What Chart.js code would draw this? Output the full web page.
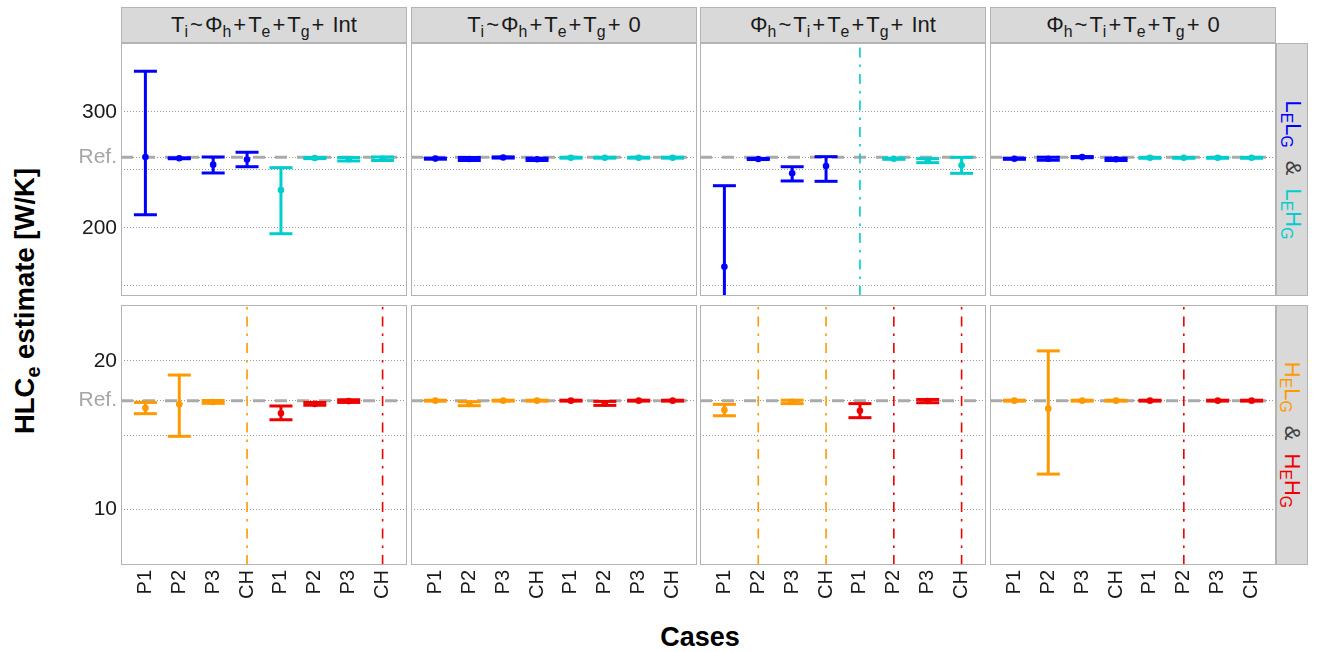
<!DOCTYPE html>
<html>
<head>
<meta charset="utf-8">
<script src="https://cdn.jsdelivr.net/npm/chart.js@4.4.1/dist/chart.umd.min.js"></script>
<style>
  html, body { margin:0; padding:0; background:#ffffff; }
  #wrap { position:relative; width:1319px; height:652px; overflow:hidden; background:#fff;
          font-family:"Liberation Sans", Arial, sans-serif; }
  #wrap canvas { position:absolute; }
  .strip { position:absolute; background:#d9d9d9; border:1px solid #b3b3b3; box-sizing:border-box;
           color:#1a1a1a; font-size:22px; display:flex; align-items:center; justify-content:center;
           white-space:nowrap; line-height:1; }
  .strip > span { white-space:pre; }
  .sb { font-size:0.72em; position:relative; top:0.32em; }
  .op { margin:0 2px; }
  .rstrip { position:absolute; background:#d9d9d9; border:1px solid #b3b3b3; box-sizing:border-box; overflow:hidden; }
  .rtext { position:absolute; display:flex; align-items:center; justify-content:center; white-space:nowrap;
           font-size:22px; line-height:1; transform:rotate(90deg); }
  .amp { color:#404040; margin:0 13px; }
  .ytitle { position:absolute; left:25px; top:301px; transform:translate(-50%,-50%) rotate(-90deg);
            font-weight:bold; font-size:27.5px; white-space:nowrap; color:#000; line-height:1; }
  .xtitle { position:absolute; left:700px; top:624px; transform:translateX(-50%);
            font-weight:bold; font-size:27px; white-space:nowrap; color:#000; line-height:1; }
</style>
</head>
<body>
<div id="wrap">
  <div class="ytitle">HLC<span class="sb">e</span> estimate [W/K]</div>
  <div class="xtitle">Cases</div>
</div>
<script>
// ---------------- data ----------------
const categories = ["P1", "P2", "P3", "CH", "P1", "P2", "P3", "CH"];

const facetTitles = [
  'T<span class="sb">i</span><span class="op">~</span>Φ<span class="sb">h</span><span class="op">+</span>T<span class="sb">e</span><span class="op">+</span>T<span class="sb">g</span><span class="op">+</span> Int',
  'T<span class="sb">i</span><span class="op">~</span>Φ<span class="sb">h</span><span class="op">+</span>T<span class="sb">e</span><span class="op">+</span>T<span class="sb">g</span><span class="op">+</span> 0',
  'Φ<span class="sb">h</span><span class="op">~</span>T<span class="sb">i</span><span class="op">+</span>T<span class="sb">e</span><span class="op">+</span>T<span class="sb">g</span><span class="op">+</span> Int',
  'Φ<span class="sb">h</span><span class="op">~</span>T<span class="sb">i</span><span class="op">+</span>T<span class="sb">e</span><span class="op">+</span>T<span class="sb">g</span><span class="op">+</span> 0'
];

const topRowLabelParts = [["L", "E", "L", "G"], ["L", "E", "H", "G"]];
const bottomRowLabelParts = [["H", "E", "L", "G"], ["H", "E", "H", "G"]];

const topColors = ["#0000FF", "#00CDCD"];
const bottomColors = ["#FF9900", "#EE0000"];

const refTop = 260.9;
const refBottom = 17.32;
const topRange = [141, 359.6];
const bottomRange = [6.22, 23.78];
const xRange = [-0.72, 7.72];

const topTickValues = [150, 200, 250, 300, refTop];
const topTickLabels = ["", "200", "", "300", "Ref."];
const bottomTickValues = [10, 15, 20, refBottom];
const bottomTickLabels = ["10", "", "20", "Ref."];

// Top row (L_E L_G & L_E H_G)
const top1_est = [261.1, 260.0, 254.5, 259.0, 232.6, 260.2, 259.2, 259.6];
const top1_lo  = [211.2, 259.6, 247.3, 252.7, 194.8, 259.7, 257.7, 258.1];
const top1_hi  = [335.2, 260.4, 261.1, 265.2, 251.9, 260.7, 260.7, 261.1];

const top2_est = [259.7, 259.4, 260.7, 259.1, 260.5, 260.5, 260.5, 260.5];
const top2_lo  = [259.2, 258.1, 260.2, 258.1, 260.1, 260.1, 260.1, 260.1];
const top2_hi  = [260.2, 260.7, 261.2, 260.1, 260.9, 260.9, 260.9, 260.9];

const top3_est = [166.3, 259.4, 247.0, 253.3, null, 259.6, 258.0, 254.0];
const top3_lo  = [95.0, 258.9, 240.4, 240.1, null, 259.1, 256.2, 247.0];
const top3_hi  = [236.3, 259.9, 252.7, 261.4, null, 260.1, 259.7, 260.8];

const top4_est = [259.6, 259.6, 261.0, 259.1, 260.4, 260.4, 260.4, 260.4];
const top4_lo  = [259.1, 258.3, 260.5, 258.1, 260.0, 260.0, 260.0, 260.0];
const top4_hi  = [260.1, 260.9, 261.5, 260.1, 260.8, 260.8, 260.8, 260.8];

// Bottom row (H_E L_G & H_E H_G)
const bot1_est = [16.82, 17.07, 17.23, null, 16.47, 17.10, 17.29, null];
const bot1_lo  = [16.44, 14.91, 17.14, null, 16.03, 17.01, 17.20, null];
const bot1_hi  = [17.20, 19.05, 17.33, null, 16.96, 17.20, 17.38, null];

const bot2_est = [17.32, 17.10, 17.32, 17.32, 17.32, 17.12, 17.32, 17.32];
const bot2_lo  = [17.29, 16.98, 17.29, 17.29, 17.29, 17.00, 17.29, 17.29];
const bot2_hi  = [17.35, 17.25, 17.35, 17.35, 17.35, 17.27, 17.35, 17.35];

const bot3_est = [16.69, null, 17.25, null, 16.64, null, 17.30, null];
const bot3_lo  = [16.30, null, 17.12, null, 16.17, null, 17.18, null];
const bot3_hi  = [17.07, null, 17.35, null, 17.12, null, 17.40, null];

const bot4_est = [17.32, 16.78, 17.32, 17.32, 17.32, null, 17.32, 17.32];
const bot4_lo  = [17.29, 12.36, 17.29, 17.29, 17.29, null, 17.29, 17.29];
const bot4_hi  = [17.35, 20.68, 17.35, 17.35, 17.35, null, 17.35, 17.35];

// ---------------- layout ----------------
const FONT = '"Liberation Sans", Arial, sans-serif';
const panelLeft = [121, 411, 700, 990];
const panelW = 286;
const rowTop = [43, 305];
const rowH = [253, 260];
const yAxisW = 80;
const xAxisH = 60;

const wrap = document.getElementById('wrap');

// strips
facetTitles.forEach((t, c) => {
  const d = document.createElement('div');
  d.className = 'strip';
  d.style.left = panelLeft[c] + 'px';
  d.style.top = '7px';
  d.style.width = panelW + 'px';
  d.style.height = '36px';
  d.innerHTML = '<span>' + t + '</span>';
  wrap.appendChild(d);
});

function rowLabelHTML(parts, colors) {
  const part = (p, col) => '<span style="color:' + col + '">' + p[0] + '<span class="sb">' + p[1] + '</span>' +
    p[2] + '<span class="sb">' + p[3] + '</span></span>';
  return part(parts[0], colors[0]) + '<span class="amp">&amp;</span>' + part(parts[1], colors[1]);
}
[[topRowLabelParts, topColors], [bottomRowLabelParts, bottomColors]].forEach(([parts, cols], r) => {
  const s = document.createElement('div');
  s.className = 'rstrip';
  const w = 32, h = rowH[r];
  s.style.left = '1276px';
  s.style.top = rowTop[r] + 'px';
  s.style.width = w + 'px';
  s.style.height = h + 'px';
  const t = document.createElement('div');
  t.className = 'rtext';
  t.style.width = h + 'px';
  t.style.height = w + 'px';
  t.style.left = ((w - h) / 2 - 1) + 'px';
  t.style.top = ((h - w) / 2 - 1) + 'px';
  t.innerHTML = rowLabelHTML(parts, cols);
  s.appendChild(t);
  wrap.appendChild(s);
});

const panels = [
  { row: 0, col: 0, est: top1_est, lo: top1_lo, hi: top1_hi },
  { row: 0, col: 1, est: top2_est, lo: top2_lo, hi: top2_hi },
  { row: 0, col: 2, est: top3_est, lo: top3_lo, hi: top3_hi },
  { row: 0, col: 3, est: top4_est, lo: top4_lo, hi: top4_hi },
  { row: 1, col: 0, est: bot1_est, lo: bot1_lo, hi: bot1_hi },
  { row: 1, col: 1, est: bot2_est, lo: bot2_lo, hi: bot2_hi },
  { row: 1, col: 2, est: bot3_est, lo: bot3_lo, hi: bot3_hi },
  { row: 1, col: 3, est: bot4_est, lo: bot4_lo, hi: bot4_hi }
];

const panelPlugin = {
  id: 'panelFrame',
  beforeDraw(chart) {
    const a = chart.chartArea, c = chart.ctx;
    c.save();
    c.fillStyle = '#ffffff';
    c.fillRect(a.left, a.top, a.right - a.left, a.bottom - a.top);
    c.restore();
  },
  afterDatasetsDraw(chart) {
    const a = chart.chartArea, c = chart.ctx;
    c.save();
    c.setLineDash([]);
    c.strokeStyle = '#b3b3b3';
    c.lineWidth = 1;
    c.strokeRect(a.left + 0.5, a.top + 0.5, a.right - a.left - 1, a.bottom - a.top - 1);
    c.restore();
  }
};

function buildChart(p) {
  const isTop = p.row === 0;
  const hasY = p.col === 0;
  const w = panelW + (hasY ? yAxisW : 0);
  const h = rowH[p.row] + (isTop ? 0 : xAxisH);
  const cvs = document.createElement('canvas');
  cvs.width = w; cvs.height = h;
  cvs.style.width = w + 'px'; cvs.style.height = h + 'px';
  cvs.style.left = (panelLeft[p.col] - (hasY ? yAxisW : 0)) + 'px';
  cvs.style.top = rowTop[p.row] + 'px';
  wrap.appendChild(cvs);

  const colors = isTop ? topColors : bottomColors;
  const ref = isTop ? refTop : refBottom;
  const yr = isTop ? topRange : bottomRange;
  const tickVals = isTop ? topTickValues : bottomTickValues;
  const tickLabs = isTop ? topTickLabels : bottomTickLabels;

  const datasets = [];
  datasets.push({
    data: [{ x: xRange[0], y: ref }, { x: xRange[1], y: ref }],
    showLine: true, borderColor: '#aaaaaa', borderWidth: 3, borderDash: [12, 10],
    pointRadius: 0, order: 10
  });
  [[0, 4], [4, 8]].forEach(([a, b], g) => {
    const col = colors[g];
    const bars = [], pts = [], na = [];
    for (let i = a; i < b; i++) {
      if (p.est[i] === null) {
        na.push({ x: i, y: yr[0] }, { x: i, y: yr[1] }, { x: i, y: null });
      } else {
        bars.push({ x: i, y: p.lo[i] }, { x: i, y: p.hi[i] }, { x: i, y: null });
        pts.push({ x: i, y: p.est[i] });
      }
    }
    if (na.length) datasets.push({
      data: na, showLine: true, borderColor: col, borderWidth: 1.6,
      borderDash: [10, 7, 2.5, 7], pointRadius: 0, order: 8
    });
    datasets.push({
      data: bars, showLine: true, borderColor: col, borderWidth: 3,
      pointStyle: 'line', pointRadius: 11.5, pointBorderWidth: 3,
      pointBorderColor: col, pointBackgroundColor: col, order: 5
    });
    datasets.push({
      data: pts, showLine: false, pointStyle: 'circle', pointRadius: 3.3,
      pointBorderWidth: 0, pointBackgroundColor: col, order: 1
    });
  });

  new Chart(cvs, {
    type: 'scatter',
    data: { datasets },
    plugins: [panelPlugin],
    options: {
      responsive: false,
      animation: false,
      devicePixelRatio: 1,
      events: [],
      layout: { padding: 0, autoPadding: false },
      elements: { line: { tension: 0 } },
      plugins: { legend: { display: false }, tooltip: { enabled: false } },
      scales: {
        x: {
          type: 'linear', min: xRange[0], max: xRange[1], display: !isTop,
          grid: { display: false, drawTicks: false },
          border: { display: false },
          afterBuildTicks: s => { s.ticks = categories.map((c, i) => ({ value: i })); },
          afterFit: s => { s.height = isTop ? 0 : xAxisH; s.paddingLeft = 0; s.paddingRight = 0; },
          ticks: {
            autoSkip: false, maxRotation: 90, minRotation: 90, padding: 5,
            color: '#1a1a1a', font: { family: FONT, size: 20 },
            callback: v => categories[v]
          }
        },
        y: {
          type: 'linear', min: yr[0], max: yr[1],
          grid: { color: '#9a9a9a', lineWidth: 1, drawTicks: false },
          border: { display: false, dash: [1, 2] },
          afterBuildTicks: s => { s.ticks = tickVals.map(v => ({ value: v })); },
          afterFit: s => { s.width = hasY ? yAxisW : 0; s.paddingTop = 0; s.paddingBottom = 0; },
          ticks: {
            display: hasY, autoSkip: false, padding: 4,
            font: { family: FONT, size: 21 },
            color: ctx => (ctx.tick && ctx.tick.value === ref) ? '#a6a6a6' : '#1a1a1a',
            callback: (v, i) => tickLabs[i]
          }
        }
      }
    }
  });
}

panels.forEach(buildChart);
</script>
</body>
</html>
